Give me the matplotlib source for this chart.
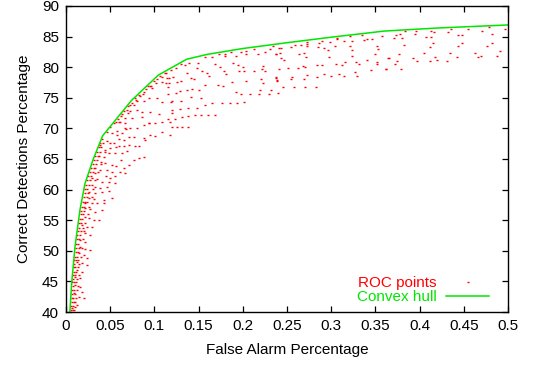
import numpy as np
import matplotlib
matplotlib.use('Agg')
import matplotlib.pyplot as plt

plt.rcParams['font.family'] = ['Liberation Sans', 'DejaVu Sans']

# ROC points, (false alarm, correct detection)
roc_steep = [
    (0.0068, 40.6), (0.0105, 40.85), (0.0124, 41.15), (0.0087, 41.7), (0.02, 42.25),
    (0.0144, 42.5), (0.0087, 43.05), (0.0181, 43.3), (0.0162, 44.15), (0.0105, 44.4),
    (0.0162, 45.5), (0.0105, 45.8), (0.0181, 46.6), (0.0124, 46.9), (0.0238, 47.7),
    (0.0181, 47.95), (0.0124, 48.2), (0.0238, 48.8), (0.02, 49.3), (0.0144, 49.6),
    (0.0275, 50.1), (0.0218, 50.25), (0.0162, 50.7), (0.0218, 51.5), (0.0162, 51.8),
    (0.0275, 52.6), (0.0218, 52.85), (0.0294, 53.95), (0.0238, 53.95), (0.0181, 54.2),
    (0.037, 55.05), (0.0313, 55.05), (0.0257, 55.3), (0.0212, 55.6), (0.0331, 56.4),
    (0.0407, 56.7), (0.0275, 56.8), (0.0212, 56.95), (0.0426, 57.75), (0.0351, 57.75),
    (0.0294, 57.85), (0.0238, 58.0), (0.0218, 57.85), (0.052, 58.6), (0.0426, 58.3),
    (0.0313, 58.4), (0.0257, 58.6), (0.0483, 59.8), (0.0407, 59.65), (0.0331, 59.5),
    (0.0257, 59.65), (0.0464, 60.5), (0.0388, 60.2), (0.0331, 60.5), (0.0294, 60.75),
    (0.0558, 61.0), (0.0483, 61.3), (0.0407, 61.3), (0.0351, 61.7), (0.0294, 61.85),
    (0.0331, 62.65), (0.0671, 62.65), (0.0614, 62.9), (0.052, 62.9), (0.0464, 63.2),
    (0.0388, 63.2), (0.0331, 63.6), (0.0879, 65.3), (0.0822, 65.1), (0.0766, 64.8),
    (0.0709, 64.1), (0.052, 64.1), (0.0445, 64.4), (0.0399, 64.55), (0.0426, 65.4),
    (0.0377, 65.5), (0.069, 66.35), (0.0633, 65.95), (0.0558, 65.95), (0.0483, 65.95),
    (0.0445, 66.5), (0.0388, 67.3), (0.0897, 68.1), (0.0829, 67.1), (0.0777, 67.1),
    (0.0709, 67.3), (0.0596, 67.1), (0.0653, 67.1), (0.054, 67.65), (0.0464, 68.0),
    (0.0407, 68.2), (0.118, 68.9), (0.1086, 69.45), (0.101, 68.8), (0.0954, 68.9),
    (0.0879, 68.4), (0.0766, 68.65), (0.0709, 68.65), (0.0577, 68.9), (0.052, 69.3),
    (0.0464, 69.45),
]

# the packed band just under the hull at small false alarm rates
roc_dense = [
    (0.0062, 40.3), (0.0081, 40.3), (0.0095, 40.3), (0.0058, 41.0), (0.0075, 41.0),
    (0.0066, 41.6), (0.0098, 41.6), (0.0063, 42.3), (0.0079, 42.3), (0.0112, 42.3),
    (0.0070, 43.0), (0.0104, 43.0), (0.0068, 43.6), (0.0090, 43.6), (0.0122, 43.6),
    (0.0075, 44.2), (0.0136, 44.2), (0.0072, 44.9), (0.0093, 44.9), (0.0115, 44.9),
    (0.0083, 45.4), (0.0128, 45.4), (0.0080, 46.1), (0.0100, 46.1), (0.0145, 46.1),
    (0.0089, 46.6), (0.0112, 46.6), (0.0086, 47.3), (0.0105, 47.3), (0.0132, 47.3),
    (0.0095, 47.9), (0.0150, 47.9), (0.0093, 48.5), (0.0115, 48.5), (0.0138, 48.5),
    (0.0102, 49.0), (0.0126, 49.0), (0.0170, 49.0), (0.0108, 49.8), (0.0132, 49.8),
    (0.0112, 50.5), (0.0148, 50.5), (0.0185, 50.5), (0.0118, 51.1), (0.0140, 51.1),
    (0.0124, 51.9), (0.0152, 51.9), (0.0195, 51.9), (0.0130, 52.5), (0.0160, 52.5),
    (0.0135, 53.2), (0.0172, 53.2), (0.0205, 53.2), (0.0145, 53.8), (0.0190, 53.8),
    (0.0148, 54.6), (0.0168, 54.6), (0.0220, 54.6), (0.0156, 55.2), (0.0180, 55.2),
    (0.0165, 56.0), (0.0195, 56.0), (0.0245, 56.0), (0.0170, 56.5), (0.0205, 56.5),
    (0.0180, 57.2), (0.0200, 57.2), (0.0260, 57.2), (0.0188, 58.0), (0.0215, 58.0),
    (0.0198, 58.8), (0.0235, 58.8), (0.0290, 58.8), (0.0210, 59.4), (0.0245, 59.4),
    (0.0215, 60.1), (0.0240, 60.1), (0.0310, 60.1), (0.0228, 60.8), (0.0262, 60.8),
    (0.0238, 61.5), (0.0275, 61.5), (0.0330, 61.5), (0.0250, 62.2), (0.0285, 62.2),
    (0.0268, 62.9), (0.0305, 62.9), (0.0360, 62.9), (0.0284, 63.5), (0.0315, 63.5),
    (0.0300, 64.2), (0.0340, 64.2), (0.0400, 64.2), (0.0315, 64.8), (0.0352, 64.8),
    (0.0333, 65.5), (0.0365, 65.5), (0.0350, 66.2), (0.0385, 66.2), (0.0445, 66.2),
    (0.0368, 66.9), (0.0400, 66.9), (0.0388, 67.6), (0.0420, 67.6), (0.0500, 67.6),
    (0.058, 69.6), (0.063, 69.2), (0.068, 69.9), (0.060, 68.2), (0.066, 68.1),
    (0.050, 66.8), (0.056, 66.9), (0.062, 64.9), (0.057, 63.8), (0.066, 63.6),
    (0.045, 62.3), (0.050, 61.9), (0.055, 62.2), (0.050, 70.2), (0.057, 71.0),
    (0.062, 72.0), (0.069, 73.0), (0.072, 73.9), (0.079, 74.6), (0.083, 75.5),
    (0.088, 76.0), (0.095, 77.0), (0.099, 77.7), (0.106, 78.5),
]

roc_knee = [
    (0.1003, 70.8), (0.0942, 70.8), (0.0879, 70.55), (0.0803, 70.0), (0.0727, 70.0),
    (0.0671, 70.0), (0.0603, 71.1), (0.054, 70.8), (0.0614, 71.1), (0.0671, 70.95),
    (0.118, 71.1), (0.1086, 71.1), (0.0936, 70.85), (0.086, 71.9), (0.0747, 71.65),
    (0.0671, 71.65), (0.0588, 71.6), (0.12, 72.55), (0.1055, 72.35), (0.0954, 72.7),
    (0.0701, 72.55), (0.0633, 72.3), (0.086, 72.7), (0.0803, 73.0), (0.0727, 72.9),
    (0.0653, 72.8), (0.0766, 73.8), (0.0747, 74.2), (0.0701, 73.6), (0.1191, 74.35),
    (0.1086, 74.35), (0.103, 74.9), (0.0936, 74.9), (0.0879, 74.5), (0.0803, 74.5),
    (0.0784, 74.9), (0.084, 75.3), (0.0868, 75.6), (0.0973, 76.55), (0.0905, 76.4),
    (0.0928, 76.9), (0.1021, 77.45), (0.0965, 76.9), (0.1169, 77.45), (0.1086, 77.6),
    (0.103, 78.0), (0.1143, 78.2), (0.1086, 78.45), (0.1123, 79.1),
    (0.113, 79.1), (0.119, 79.6), (0.121, 78.45), (0.124, 79.8), (0.130, 80.5),
    (0.135, 80.4), (0.139, 80.75), (0.149, 80.75), (0.157, 81.6), (0.165, 81.6),
    (0.173, 82.1), (0.180, 82.1), (0.180, 81.8), (0.187, 82.45), (0.192, 81.8),
    (0.198, 82.45), (0.204, 82.1), (0.204, 82.7), (0.213, 82.9), (0.2175, 82.1),
    (0.225, 82.45), (0.2345, 83.45), (0.231, 82.9), (0.2375, 82.1), (0.241, 83.1),
    (0.113, 77.45), (0.115, 76.8), (0.1165, 78.3), (0.125, 77.6), (0.130, 77.8),
    (0.1365, 79.1), (0.1415, 78.3), (0.145, 78.0), (0.148, 79.9), (0.1535, 79.4),
    (0.160, 79.0), (0.162, 78.5), (0.1685, 80.55), (0.174, 80.1), (0.179, 79.4),
    (0.1805, 78.95), (0.189, 80.75), (0.195, 80.4), (0.2005, 80.1), (0.1955, 79.35),
    (0.2015, 79.3), (0.213, 79.3), (0.223, 80.25), (0.2215, 79.75), (0.225, 79.3),
    (0.2035, 77.8), (0.2205, 78.0), (0.2225, 77.45), (0.2375, 78.3), (0.239, 77.8),
    (0.115, 75.6), (0.124, 75.85), (0.129, 76.15), (0.1365, 76.3), (0.142, 76.5),
    (0.151, 76.3), (0.157, 77.15), (0.172, 77.15), (0.178, 77.0), (0.188, 77.6),
    (0.192, 75.9), (0.198, 75.6), (0.208, 75.6), (0.2195, 76.2), (0.2185, 75.6),
    (0.232, 76.2), (0.230, 75.6), (0.1415, 75.1), (0.153, 74.9), (0.165, 74.1),
    (0.157, 73.75), (0.176, 74.1), (0.1855, 74.1), (0.193, 74.1), (0.2015, 74.25),
    (0.120, 74.45), (0.130, 74.45), (0.129, 73.1), (0.1195, 72.95), (0.138, 73.3),
    (0.148, 73.3), (0.138, 72.0), (0.146, 72.15), (0.153, 72.15), (0.161, 72.15),
    (0.1685, 72.15), (0.1155, 71.5), (0.123, 71.5), (0.131, 71.8), (0.120, 70.2),
    (0.126, 70.2), (0.1315, 70.2), (0.138, 70.2),
]

roc_tail = [
    (0.243, 83.1), (0.2545, 83.35), (0.259, 83.6), (0.2655, 83.6), (0.273, 84.1),
    (0.273, 83.75), (0.273, 83.4), (0.286, 83.9), (0.285, 83.25), (0.290, 84.2),
    (0.299, 84.1), (0.306, 84.55), (0.307, 84.8), (0.315, 84.2), (0.321, 85.05),
    (0.3235, 84.2), (0.3345, 85.2), (0.337, 84.4), (0.341, 84.55), (0.3465, 84.55),
    (0.358, 85.05), (0.304, 83.4), (0.321, 83.4), (0.3515, 83.4), (0.3525, 82.9),
    (0.292, 83.1), (0.296, 82.75), (0.324, 82.75), (0.2425, 82.4), (0.237, 82.1),
    (0.264, 82.1), (0.269, 82.25), (0.2715, 81.6), (0.297, 81.6), (0.323, 81.8),
    (0.3495, 82.1), (0.3645, 81.45), (0.243, 81.45), (0.2465, 81.1), (0.316, 80.8),
    (0.305, 80.5), (0.312, 80.3), (0.3275, 80.8), (0.3315, 80.5), (0.340, 81.1),
    (0.3515, 80.8), (0.3515, 80.5), (0.2835, 80.3), (0.290, 80.3), (0.2685, 80.15),
    (0.270, 80.0), (0.262, 79.8), (0.251, 79.8), (0.2405, 79.65), (0.3445, 79.5),
    (0.3615, 79.65), (0.327, 79.2), (0.309, 78.85), (0.329, 78.5), (0.314, 78.5),
    (0.2995, 78.5), (0.2915, 78.85), (0.284, 78.35), (0.273, 78.7), (0.2555, 78.45),
    (0.269, 78.0), (0.254, 78.0), (0.238, 78.35), (0.2385, 77.85), (0.246, 76.7),
    (0.258, 76.7), (0.270, 76.7), (0.283, 76.7), (0.240, 75.75),
    (0.373, 85.2), (0.3775, 85.4), (0.384, 85.85), (0.396, 85.9), (0.395, 85.4),
    (0.371, 84.7), (0.380, 84.7), (0.413, 85.9), (0.416, 85.7), (0.407, 84.9),
    (0.413, 84.9), (0.432, 85.7), (0.436, 86.2), (0.444, 85.2), (0.448, 85.2),
    (0.455, 86.2), (0.471, 85.9), (0.482, 85.5), (0.479, 86.5), (0.497, 86.2),
    (0.382, 83.6), (0.415, 83.9), (0.412, 83.3), (0.448, 83.9), (0.443, 83.4),
    (0.482, 83.9), (0.476, 83.4), (0.377, 82.1), (0.405, 82.3), (0.434, 82.3),
    (0.463, 82.4), (0.469, 81.9), (0.491, 82.6), (0.488, 81.9), (0.365, 81.5),
    (0.392, 81.5), (0.417, 81.6), (0.442, 81.6), (0.466, 81.6), (0.374, 81.0),
    (0.372, 80.6), (0.397, 81.0), (0.412, 81.0), (0.420, 81.1), (0.431, 81.0),
    (0.362, 79.7), (0.379, 79.7),
]

hull_fa = [0.0035, 0.0064, 0.0102, 0.0158, 0.0215, 0.0309, 0.0415, 0.0743,
           0.1044, 0.1365, 0.16, 0.2, 0.25, 0.30, 0.36, 0.42, 0.5]
hull_cd = [38.0, 44.7, 50.7, 56.7, 61.0, 65.0, 68.8, 74.6,
           78.7, 81.3, 82.1, 83.05, 84.0, 84.9, 85.9, 86.4, 86.9]

xticks = [0, 0.05, 0.1, 0.15, 0.2, 0.25, 0.3, 0.35, 0.4, 0.45, 0.5]
xtick_labels = ['0', '0.05', '0.1', '0.15', '0.2', '0.25', '0.3', '0.35', '0.4', '0.45', '0.5']
yticks = [40, 45, 50, 55, 60, 65, 70, 75, 80, 85, 90]

pts = np.array(roc_steep + roc_dense + roc_knee + roc_tail)

fig = plt.figure(figsize=(5.34, 3.65), dpi=100)
ax = fig.add_axes([0.1236, 0.1452, 0.8277, 0.8384])

ax.plot(pts[:, 0], pts[:, 1], linestyle='none', marker='_', ms=1.8, mew=1.0,
        color='#ff0000', label='ROC points')
ax.plot(hull_fa, hull_cd, color='#00e600', lw=1.1, label='Convex hull')

ax.set_xlim(0, 0.5)
ax.set_ylim(40, 90)
ax.set_xticks(xticks)
ax.set_xticklabels(xtick_labels)
ax.set_yticks(yticks)
ax.tick_params(direction='in', length=4.5, width=0.9, top=True, right=True,
               labelsize=11, pad=5, colors='black')
for sp in ax.spines.values():
    sp.set_linewidth(1.0)

ax.set_xlabel('False Alarm Percentage', fontsize=11, labelpad=7)
ax.set_ylabel('Correct Detections Percentage', fontsize=11, labelpad=8)

ax.legend(loc='lower right', bbox_to_anchor=(0.957, 0.025), frameon=False,
          markerfirst=False, labelcolor='linecolor', handlelength=2.8,
          handletextpad=0.65, borderpad=0, borderaxespad=0, labelspacing=0.0,
          numpoints=1, fontsize=11)

fig.savefig('out.png', dpi=100)
